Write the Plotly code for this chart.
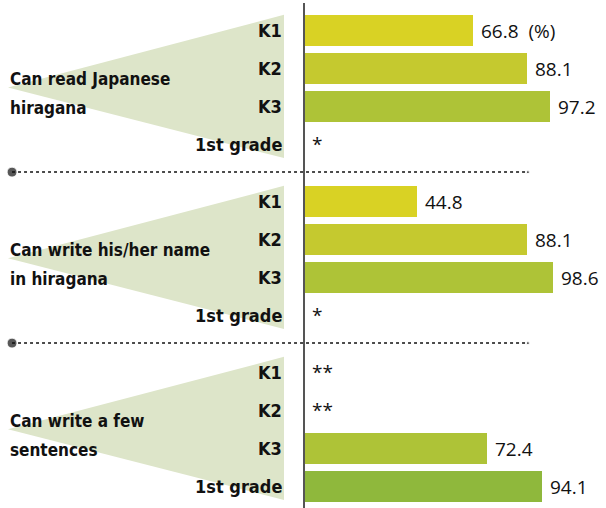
import plotly.graph_objects as go

skills = ["Can read Japanese<br>hiragana",
          "Can write his/her name<br>in hiragana",
          "Can write a few<br>sentences"]
grades = ["K1", "K2", "K3", "1st grade"]
read_hiragana = [66.8, 88.1, 97.2, None]
write_name = [44.8, 88.1, 98.6, None]
write_sentences = [None, None, 72.4, 94.1]
no_data_marks = [["", "", "", "*"], ["", "", "", "*"], ["**", "**", "", ""]]

values = [read_hiragana, write_name, write_sentences]
grade_colors = ["#d9d224", "#c5c92f", "#aec337", "#8fb83c"]
wedge_color = "#dde5c9"
SEC = 4.5  # rows per section incl. gap
PX = 2.53  # px per percent

def row_pos(s, r):
    return s * SEC + r

fig = go.Figure()

# light green wedges behind each skill group
for s in range(len(skills)):
    top, bot, mid = row_pos(s, -0.41), row_pos(s, 3.36), row_pos(s, 1.5)
    fig.add_shape(type="path", path=f"M -117,{mid} L -7.9,{top} L -7.9,{bot} Z",
                  fillcolor=wedge_color, line_width=0, layer="below")

for g, grade in enumerate(grades):
    ys, xs, txt = [], [], []
    for s in range(len(skills)):
        v = values[s][g]
        if v is None:
            continue
        ys.append(row_pos(s, g))
        xs.append(v)
        txt.append(f" {v:.1f}  (%)" if (s == 0 and g == 0) else f" {v:.1f}")
    fig.add_trace(go.Bar(x=xs, y=ys, orientation="h", width=0.82,
                         marker=dict(color=grade_colors[g], line_width=0),
                         text=txt, textposition="outside", cliponaxis=False,
                         textfont=dict(family="Open Sans", size=19, color="#111"),
                         showlegend=False, hoverinfo="skip"))

lab_font = dict(family="DejaVu Sans Condensed, Roboto, sans-serif", size=17, color="#111")
grade_font = dict(lab_font, size=18)
for s, skill in enumerate(skills):
    # two text lines, spaced wider than plotly's default line height
    for k, line in enumerate(skill.split("<br>")):
        fig.add_annotation(x=-117, y=row_pos(s, 1.28 + 0.77 * k), text=f"<b>{line}</b>",
                           xanchor="left", align="left", showarrow=False,
                           font=lab_font)
    for g, grade in enumerate(grades):
        fig.add_annotation(x=-8.1, y=row_pos(s, g), text=f"<b>{grade}</b>",
                           xanchor="right", showarrow=False, font=grade_font)
        mark = no_data_marks[s][g]
        if mark:
            fig.add_annotation(x=0, y=row_pos(s, g), text=mark, xanchor="left",
                               xshift=6, showarrow=False,
                               font=dict(family="Open Sans", size=19, color="#111"))

# dotted separators between groups
for s in range(1, len(skills)):
    ysep = row_pos(s, -0.77)
    fig.add_trace(go.Scatter(x=[-115.4, 88.5], y=[ysep, ysep], mode="lines+markers",
                             line=dict(color="#111", width=1.5, dash="dot"),
                             marker=dict(size=[10, 3], color="#111"),
                             showlegend=False, hoverinfo="skip", cliponaxis=False))

# vertical baseline
fig.add_shape(type="line", x0=0, x1=0, y0=-0.72, y1=12.6, line=dict(color="#555", width=2))

fig.update_layout(
    width=606, height=508, margin=dict(l=0, r=0, t=0, b=0),
    plot_bgcolor="white", paper_bgcolor="white", bargap=0,
    xaxis=dict(range=[-304 / PX, 302 / PX], visible=False, fixedrange=True),
    yaxis=dict(range=[12.57, -0.8], visible=False, fixedrange=True),
)
fig.write_html("out.html", config={"displayModeBar": False},
               post_script="document.body.style.margin='0';")
